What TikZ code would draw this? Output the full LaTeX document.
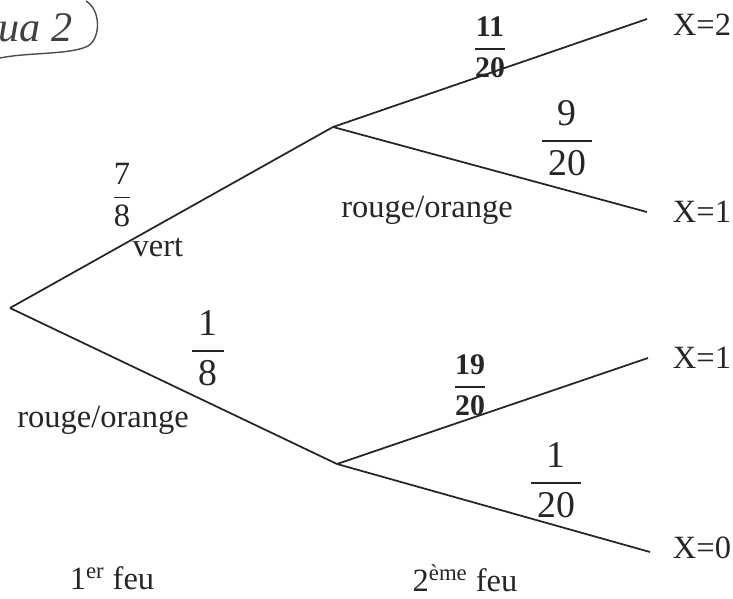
\documentclass[tikz,border=0pt]{standalone}
\usepackage{fontspec}
\setmainfont{Liberation Serif}
\usepackage{amsmath}
\usetikzlibrary{positioning}
\newcommand{\fracp}[2]{$\dfrac{\mbox{#1}}{\mbox{#2}}$}
\newcommand{\fracw}[2]{$\dfrac{\mbox{\,#1\,}}{\mbox{\,#2\,}}$}

\begin{document}
\begin{tikzpicture}[x=0.02cm, y=-0.02cm,
    branch/.style={draw=black!85, line width=1pt},
    lab/.style={font=\fontsize{18.5}{21}\selectfont, text=black!85, inner sep=1pt},
    bigfr/.style={font=\fontsize{21.5}{24}\selectfont, text=black!85, inner sep=1pt},
    smallfr/.style={font=\fontsize{17}{20}\selectfont\bfseries, text=black!85, inner sep=1pt}]
  \useasboundingbox (0,0) rectangle (733,598);

  % branch points and leaves
  \coordinate (root) at (10,308);
  \coordinate (nv) at (333,127);
  \coordinate (nr) at (337,464);
  \coordinate (a1) at (647,19);
  \coordinate (a2) at (647,212);
  \coordinate (a3) at (648,358);
  \coordinate (a4) at (650,552);

  \draw[branch] (root) -- (nv);
  \draw[branch] (root) -- (nr);
  \draw[branch] (nv) -- (a1);
  \draw[branch] (nv) -- (a2);
  \draw[branch] (nr) -- (a3);
  \draw[branch] (nr) -- (a4);

  % first level
  \node[lab] (p78) at (122,195) {\fracp{7}{8}};
  \node[lab] (vert) at (158,248) {vert};
  \node[bigfr] (p18) at (208,348) {\fracw{1}{8}};
  \node[lab] (ro1) at (103,420) {rouge/orange};

  % second level
  \node[smallfr] (p1120) at (490,47) {\fracp{11}{20}};
  \node[bigfr] (p920) at (567,138) {\fracw{9}{20}};
  \node[lab] (ro2) at (427,210) {rouge/orange};
  \node[smallfr] (p1920) at (470,385) {\fracp{19}{20}};
  \node[bigfr] (p120) at (556,480) {\fracw{1}{20}};

  % values of X
  \node[lab] (x1) at (702,25) {X=2};
  \node[lab] (x2) at (702,212) {X=1};
  \node[lab] (x3) at (702,358) {X=1};
  \node[lab] (x4) at (702,548) {X=0};

  \node[lab] (feu1) at (112,578) {1\textsuperscript{er} feu};
  \node[lab] (feu2) at (465,578) {2\textsuperscript{ème} feu};

  % handwritten mark
  \node[font=\fontsize{24}{26}\selectfont\itshape, text=black!75, anchor=west, inner sep=0pt] (cas) at (-2,28) {ua 2};
  \draw[black!70, line width=0.8pt] (86,1) .. controls (101,10) and (101,38) .. (88,46) .. controls (70,55) and (30,52) .. (0,58);
\end{tikzpicture}
\end{document}
